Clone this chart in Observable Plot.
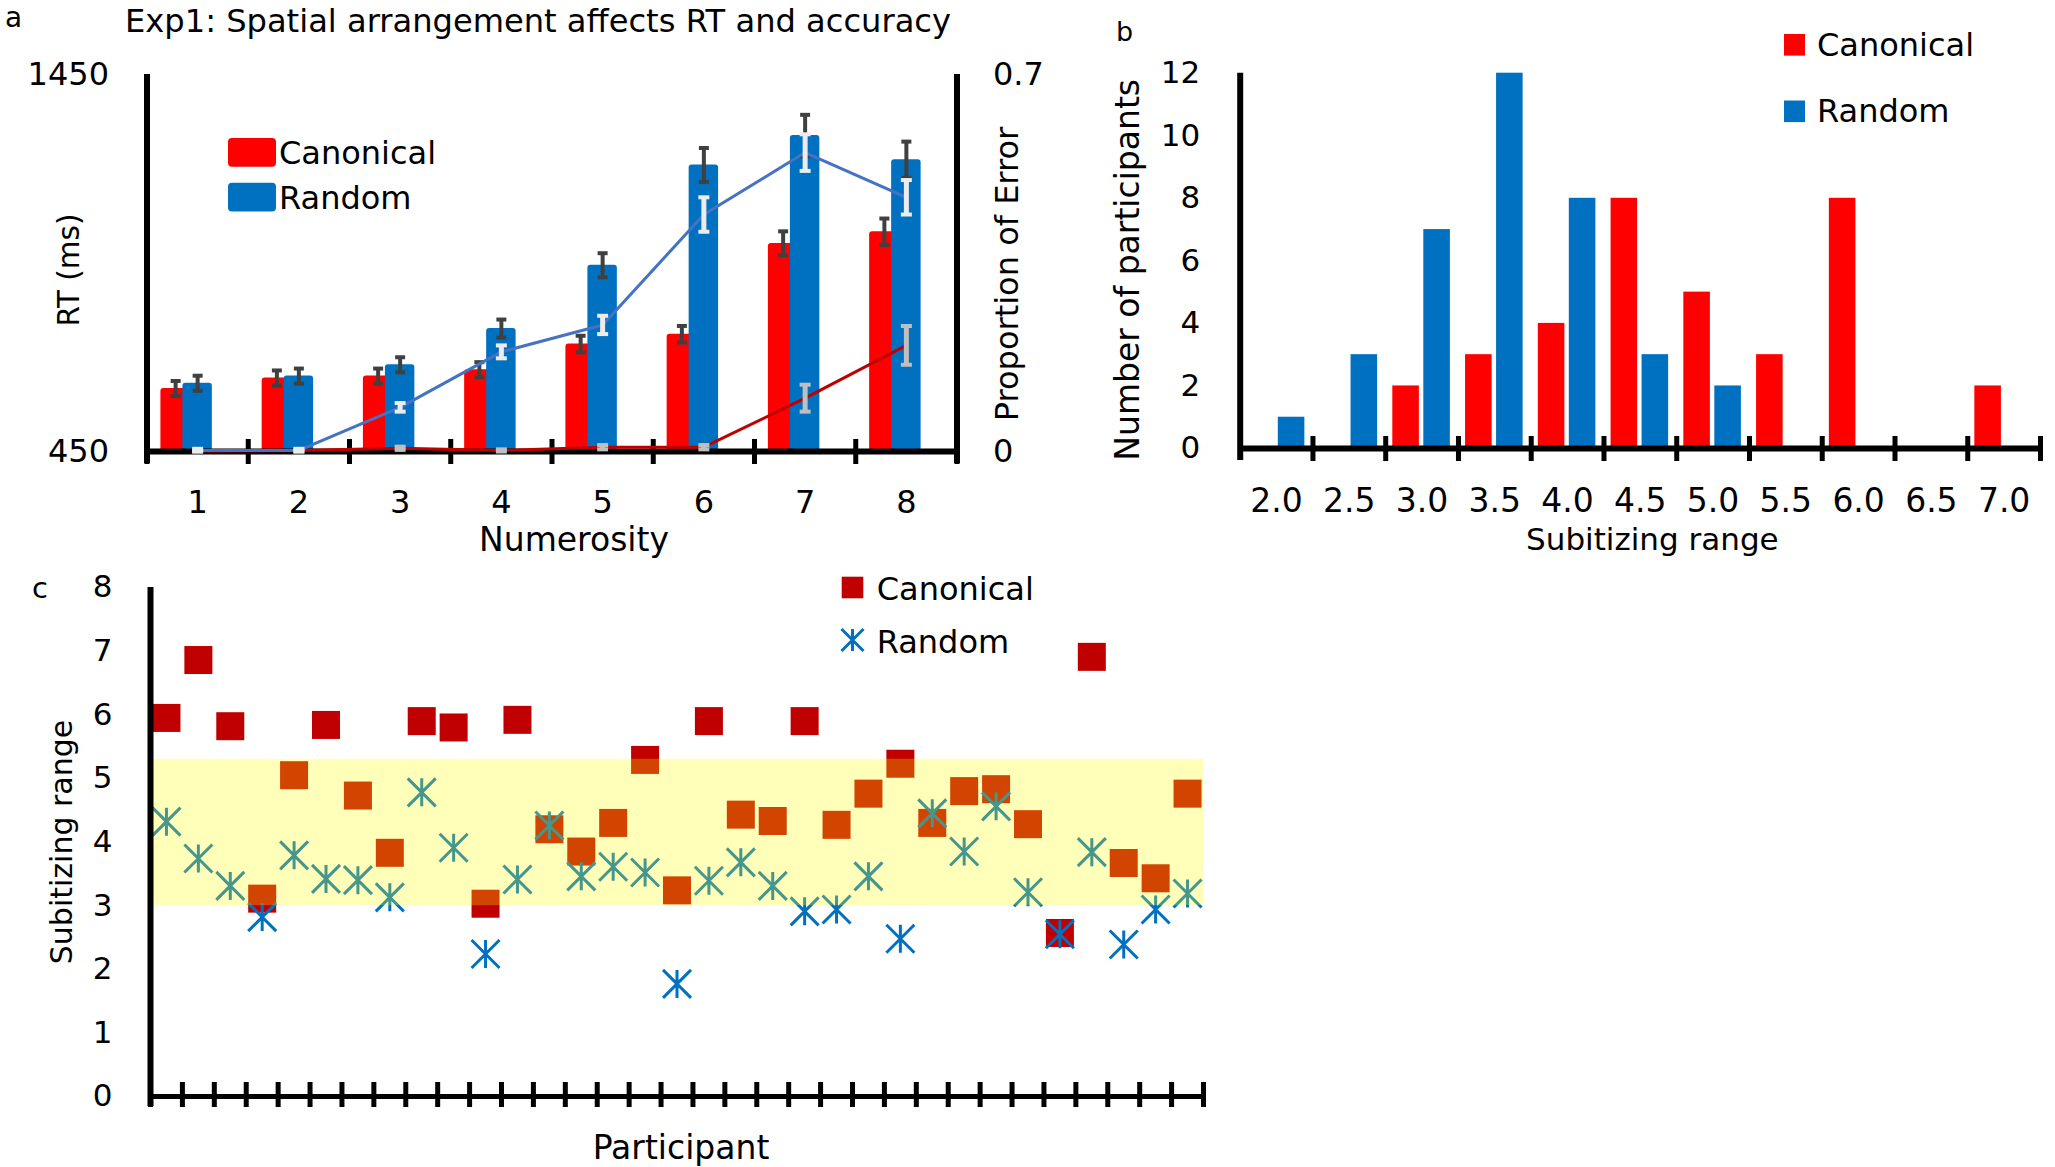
<!DOCTYPE html>
<html><head><meta charset="utf-8">
<script src="https://cdn.jsdelivr.net/npm/d3@7"></script>
<script src="https://cdn.jsdelivr.net/npm/@observablehq/plot@0.6"></script>
<style>
html,body{margin:0;padding:0;background:#fff;}
#root{position:relative;width:2055px;height:1167px;overflow:hidden;background:#fff;}
#root > svg{position:absolute;}
</style></head><body><div id="root"></div>
<script>
// ---------- Panel a: RT and error by numerosity ----------
const numerosity = [1, 2, 3, 4, 5, 6, 7, 8];
const rtCanonical = [617, 645, 650, 667, 735, 761, 1002, 1033];
const rtRandom = [631, 650, 680, 776, 944, 1210, 1288, 1224];
const rtSeCanonical = [20, 20, 20, 20, 22, 22, 32, 35];
const rtSeRandom = [20, 20, 20, 24, 32, 45, 55, 48];
const errCanonical = [0.001, 0.002, 0.006, 0.002, 0.008, 0.008, 0.099, 0.197];
const errRandom = [0.002, 0.002, 0.082, 0.185, 0.235, 0.440, 0.555, 0.472];
const errSeCanonical = [0.002, 0.002, 0.003, 0.002, 0.004, 0.004, 0.025, 0.036];
const errSeRandom = [0.003, 0.003, 0.008, 0.012, 0.017, 0.032, 0.034, 0.032];
const rtTicks = [450, 1450];
const errTicks = [0, 0.7];

// ---------- Panel b: histogram of subitizing range ----------
const rangeBins = [2.0, 2.5, 3.0, 3.5, 4.0, 4.5, 5.0, 5.5, 6.0, 6.5, 7.0];
const countCanonical = [0, 0, 2, 3, 4, 8, 5, 3, 8, 0, 2];
const countRandom = [1, 3, 7, 12, 8, 3, 2, 0, 0, 0, 0];
const countTicks = [0, 2, 4, 6, 8, 10, 12];

// ---------- Panel c: subitizing range per participant ----------
const participants = [1,2,3,4,5,6,7,8,9,10,11,12,13,14,15,16,17,18,19,20,21,22,23,24,25,26,27,28,29,30,31,32,33];
const subCanonical = [5.95, 6.86, 5.82, 3.11, 5.05, 5.84, 4.73, 3.83, 5.90, 5.80, 3.03, 5.92, 4.20, 3.85, 4.30, 5.29, 3.24, 5.90, 4.43, 4.33, 5.90, 4.27, 4.76, 5.23, 4.30, 4.80, 4.83, 4.28, 2.57, 6.91, 3.67, 3.43, 4.76];
const subRandom = [4.32, 3.74, 3.31, 2.82, 3.79, 3.42, 3.40, 3.13, 4.78, 3.91, 2.24, 3.41, 4.26, 3.46, 3.61, 3.52, 1.77, 3.39, 3.68, 3.31, 2.91, 2.94, 3.46, 2.48, 4.45, 3.85, 4.56, 3.21, 2.55, 3.84, 2.39, 2.94, 3.19];
const typicalBand = [3.0, 5.3];
const rangeTicks = [0, 1, 2, 3, 4, 5, 6, 7, 8];

const series = ["Canonical", "Random"];
const barColor = {Canonical: "#FF0000", Random: "#0070C0"};
const markColor = {Canonical: "#C00000", Random: "#0070C0"};
const lineColor = {Canonical: "#C00000", Random: "#4472C4"};

// ---------- helpers ----------
const FONT = "'DejaVu Sans', 'Open Sans', sans-serif";
const baseStyle = {fontFamily: FONT, fontSize: "32px", color: "#000", background: "transparent", overflow: "visible", maxWidth: "none"};
const capSym = {draw(ctx, size) { const r = Math.sqrt(size / Math.PI); ctx.moveTo(-r, 0); ctx.lineTo(r, 0); }};
const tickSym = {draw(ctx, size) { const r = Math.sqrt(size / Math.PI); ctx.moveTo(0, -r); ctx.lineTo(0, r); }};
const starSym = {draw(ctx, size) { const r = Math.sqrt(size / Math.PI);
  ctx.moveTo(0, -r); ctx.lineTo(0, r); ctx.moveTo(-r, -r); ctx.lineTo(r, r); ctx.moveTo(-r, r); ctx.lineTo(r, -r); }};
const root = document.getElementById("root");
function place(svg, left, top) { svg.style.left = left + "px"; svg.style.top = top + "px"; root.appendChild(svg); }
const titleOpts = {text: d => d, textAnchor: "middle", lineAnchor: "middle"};

// ---------- Panel a ----------
const dataA = numerosity.map((n, i) => ({n, rc: rtCanonical[i], rr: rtRandom[i], sc: rtSeCanonical[i], sr: rtSeRandom[i],
  ec: errCanonical[i], er: errRandom[i], esc: errSeCanonical[i], esr: errSeRandom[i]}));
const bAx = numerosity.map(n => n - 0.5).concat([numerosity[numerosity.length - 1] + 0.5]);
const xDomA = [bAx[0], bAx[bAx.length - 1]];
const LA = {width: 1060, height: 560, marginLeft: 146.5, marginRight: 103.5, marginTop: 74, marginBottom: 109};

const plotA = Plot.plot({
  ...LA, style: baseStyle,
  x: {domain: xDomA, label: null},
  y: {domain: rtTicks, label: null},
  marks: [
    Plot.rect(dataA, {x1: d => d.n - 0.5, x2: d => d.n + 0.5, y1: () => rtTicks[0], y2: d => d.rc, fill: barColor.Canonical, insetLeft: 13.9, insetRight: 57.9, rx: 3}),
    Plot.rect(dataA, {x1: d => d.n - 0.5, x2: d => d.n + 0.5, y1: () => rtTicks[0], y2: d => d.rr, fill: barColor.Random, insetLeft: 35.9, insetRight: 35.9, rx: 3}),
    Plot.ruleX(dataA, {x: "n", y1: d => d.rc - d.sc, y2: d => d.rc + d.sc, dx: -22, stroke: "#404040", strokeWidth: 4}),
    Plot.dot(dataA, {x: "n", y: d => d.rc + d.sc, dx: -22, symbol: capSym, r: 5, stroke: "#404040", strokeWidth: 4, fill: "none"}),
    Plot.dot(dataA, {x: "n", y: d => d.rc - d.sc, dx: -22, symbol: capSym, r: 5, stroke: "#404040", strokeWidth: 4, fill: "none"}),
    Plot.ruleX(dataA, {x: "n", y1: d => d.rr - d.sr, y2: d => d.rr + d.sr, stroke: "#404040", strokeWidth: 4}),
    Plot.dot(dataA, {x: "n", y: d => d.rr + d.sr, symbol: capSym, r: 5, stroke: "#404040", strokeWidth: 4, fill: "none"}),
    Plot.dot(dataA, {x: "n", y: d => d.rr - d.sr, symbol: capSym, r: 5, stroke: "#404040", strokeWidth: 4, fill: "none"}),
    Plot.ruleY([rtTicks[0]], {stroke: "#000", strokeWidth: 6}),
    Plot.ruleX(xDomA, {stroke: "#000", strokeWidth: 6, insetBottom: -12}),
    Plot.dot(bAx, {x: d => d, y: () => rtTicks[0], symbol: tickSym, r: 12.5, stroke: "#000", strokeWidth: 5, fill: "none"}),
    Plot.axisY({ticks: rtTicks, tickSize: 0, tickPadding: 38, tickFormat: d => String(d), fontSize: 32, label: null}),
    Plot.axisX({ticks: numerosity, tickSize: 0, tickPadding: 39, tickFormat: d => String(d), fontSize: 32, label: null}),
    Plot.text(["RT (ms)"], {...titleOpts, frameAnchor: "left", rotate: -90, dx: -77, dy: 7, fontSize: 29.5}),
    Plot.text(["Numerosity"], {...titleOpts, frameAnchor: "bottom", dx: 22, dy: 89, fontSize: 33})
  ]
});
place(plotA, 0, 0);

const plotA2 = Plot.plot({
  ...LA, style: baseStyle,
  x: {domain: xDomA, axis: null},
  y: {domain: errTicks, label: null},
  marks: [
    Plot.line(dataA, {x: "n", y: "ec", stroke: lineColor.Canonical, strokeWidth: 3}),
    Plot.line(dataA, {x: "n", y: "er", stroke: lineColor.Random, strokeWidth: 3}),
    Plot.ruleX(dataA, {x: "n", y1: d => Math.max(0, d.ec - d.esc), y2: d => d.ec + d.esc, stroke: "#bfbfbf", strokeWidth: 5}),
    Plot.dot(dataA, {x: "n", y: d => d.ec + d.esc, symbol: capSym, r: 5.5, stroke: "#bfbfbf", strokeWidth: 4, fill: "none"}),
    Plot.dot(dataA, {x: "n", y: d => Math.max(0, d.ec - d.esc), symbol: capSym, r: 5.5, stroke: "#bfbfbf", strokeWidth: 4, fill: "none"}),
    Plot.ruleX(dataA, {x: "n", y1: d => Math.max(0, d.er - d.esr), y2: d => d.er + d.esr, stroke: "#ececec", strokeWidth: 5}),
    Plot.dot(dataA, {x: "n", y: d => d.er + d.esr, symbol: capSym, r: 5.5, stroke: "#ececec", strokeWidth: 4, fill: "none"}),
    Plot.dot(dataA, {x: "n", y: d => Math.max(0, d.er - d.esr), symbol: capSym, r: 5.5, stroke: "#ececec", strokeWidth: 4, fill: "none"}),
    Plot.axisY({anchor: "right", ticks: errTicks, tickSize: 0, tickPadding: 36, tickFormat: d => String(d), fontSize: 32, label: null}),
    Plot.text(["Proportion of Error"], {...titleOpts, frameAnchor: "right", rotate: -90, dx: 51, dy: 11, fontSize: 32})
  ]
});
place(plotA2, 0, 0);

// ---------- Panel b ----------
const dataB = rangeBins.map((b, i) => ({b, c: countCanonical[i], r: countRandom[i]}));
const halfBin = (rangeBins[1] - rangeBins[0]) / 2;
const bBx = [rangeBins[0] - halfBin].concat(rangeBins.map(b => b + halfBin));
const xDomB = [bBx[0], bBx[bBx.length - 1]];
const plotB = Plot.plot({
  width: 995, height: 560, marginLeft: 179.7, marginRight: 15, marginTop: 72.7, marginBottom: 112,
  style: baseStyle,
  x: {domain: xDomB, label: null},
  y: {domain: [countTicks[0], countTicks[countTicks.length - 1]], label: null},
  marks: [
    Plot.rect(dataB.filter(d => d.c > 0), {x1: d => d.b - halfBin, x2: d => d.b + halfBin, y1: () => 0, y2: d => d.c, fill: barColor.Canonical, insetLeft: 7.1, insetRight: 39.1}),
    Plot.rect(dataB.filter(d => d.r > 0), {x1: d => d.b - halfBin, x2: d => d.b + halfBin, y1: () => 0, y2: d => d.r, fill: barColor.Random, insetLeft: 38.1, insetRight: 8.1}),
    Plot.ruleY([countTicks[0]], {stroke: "#000", strokeWidth: 6}),
    Plot.ruleX([xDomB[0]], {stroke: "#000", strokeWidth: 6, insetBottom: -12}),
    Plot.dot(bBx.slice(1), {x: d => d, y: () => countTicks[0], symbol: tickSym, r: 12.5, stroke: "#000", strokeWidth: 5, fill: "none"}),
    Plot.axisY({ticks: countTicks, tickSize: 0, tickPadding: 40, tickFormat: d => String(d), fontSize: 31, label: null}),
    Plot.axisX({ticks: rangeBins, tickSize: 0, tickPadding: 40, tickFormat: d3.format(".1f"), fontSize: 33, label: null}),
    Plot.text(["Number of participants"], {...titleOpts, frameAnchor: "left", rotate: -90, dx: -112, dy: 9, fontSize: 33}),
    Plot.text(["Subitizing range"], {...titleOpts, frameAnchor: "bottom", dx: 12, dy: 92, fontSize: 31})
  ]
});
place(plotB, 1060, 0);

// ---------- Panel c ----------
const dataC = participants.map((p, i) => ({p, c: subCanonical[i], r: subRandom[i]}));
const cBx = [participants[0] - 0.5].concat(participants.map(p => p + 0.5));
const xDomC = [cBx[0], cBx[cBx.length - 1]];
const plotC = Plot.plot({
  width: 1230, height: 607, marginLeft: 150, marginRight: 27, marginTop: 27, marginBottom: 71,
  style: baseStyle,
  x: {domain: xDomC, axis: null},
  y: {domain: [rangeTicks[0], rangeTicks[rangeTicks.length - 1]], label: null},
  marks: [
    Plot.dot(dataC, {x: "p", y: "c", symbol: "square", r: 15.8, fill: markColor.Canonical, stroke: "none"}),
    Plot.dot(dataC, {x: "p", y: "r", symbol: starSym, r: 14, stroke: markColor.Random, strokeWidth: 3, fill: "none"}),
    Plot.rect([typicalBand], {x1: () => xDomC[0], x2: () => xDomC[1], y1: d => d[0], y2: d => d[1], fill: "#FFFF00", fillOpacity: 0.27}),
    Plot.ruleY([rangeTicks[0]], {stroke: "#000", strokeWidth: 5}),
    Plot.ruleX([xDomC[0]], {stroke: "#000", strokeWidth: 6, insetBottom: -10}),
    Plot.dot(cBx, {x: d => d, y: () => rangeTicks[0], symbol: tickSym, r: 12.5, dy: -2, stroke: "#000", strokeWidth: 5, fill: "none"}),
    Plot.axisY({ticks: rangeTicks, tickSize: 0, tickPadding: 38, tickFormat: d => String(d), fontSize: 31, label: null}),
    Plot.text(["Subitizing range"], {...titleOpts, frameAnchor: "left", rotate: -90, dx: -88, dy: 0, fontSize: 30}),
    Plot.text(["Participant"], {...titleOpts, frameAnchor: "bottom", dx: 4, dy: 52, fontSize: 33})
  ]
});
place(plotC, 0, 560);

// ---------- Overlay: panel letters, title, legends ----------
const ov = d3.create("svg").attr("width", 2055).attr("height", 1167)
  .style("left", "0px").style("top", "0px").style("pointer-events", "none")
  .attr("font-family", FONT).attr("fill", "#000");
const letters = [{t: "a", x: 5, y: 27, s: 28}, {t: "b", x: 1116, y: 41, s: 27}, {t: "c", x: 32, y: 598, s: 29}];
ov.selectAll("text.lt").data(letters).join("text").attr("class", "lt")
  .attr("x", d => d.x).attr("y", d => d.y).attr("font-size", d => d.s).text(d => d.t);
ov.append("text").attr("x", 125).attr("y", 32).attr("font-size", 32)
  .attr("textLength", 826).attr("lengthAdjust", "spacingAndGlyphs")
  .text("Exp1: Spatial arrangement affects RT and accuracy");

// legend a
const la = ov.append("g");
la.selectAll("rect").data(series).join("rect")
  .attr("x", 228).attr("y", (d, i) => 138 + i * 44.7).attr("width", 48).attr("height", 28.7).attr("rx", 4)
  .attr("fill", d => barColor[d]);
la.selectAll("text").data(series).join("text")
  .attr("x", 279).attr("y", (d, i) => 163.5 + i * 45).attr("font-size", 32).text(d => d);

// legend b
const lb = ov.append("g");
lb.selectAll("rect").data(series).join("rect")
  .attr("x", 1784).attr("y", (d, i) => 34 + i * 66.5).attr("width", 21).attr("height", 21.6)
  .attr("fill", d => barColor[d]);
lb.selectAll("text").data(series).join("text")
  .attr("x", 1817).attr("y", (d, i) => 55.6 + i * 66.4).attr("font-size", 32).text(d => d);

// legend c
const lc = ov.append("g");
lc.append("rect").attr("x", 841.7).attr("y", 576.7).attr("width", 21.6).attr("height", 21.6).attr("fill", markColor[series[0]]);
lc.append("path").attr("d", d3.symbol(starSym, Math.PI * 11 * 11)()).attr("transform", "translate(852.5,640)")
  .attr("fill", "none").attr("stroke", markColor[series[1]]).attr("stroke-width", 3);
lc.selectAll("text").data(series).join("text")
  .attr("x", 876.7).attr("y", (d, i) => 600 + i * 53).attr("font-size", 32).text(d => d);
root.appendChild(ov.node());
</script></body></html>
